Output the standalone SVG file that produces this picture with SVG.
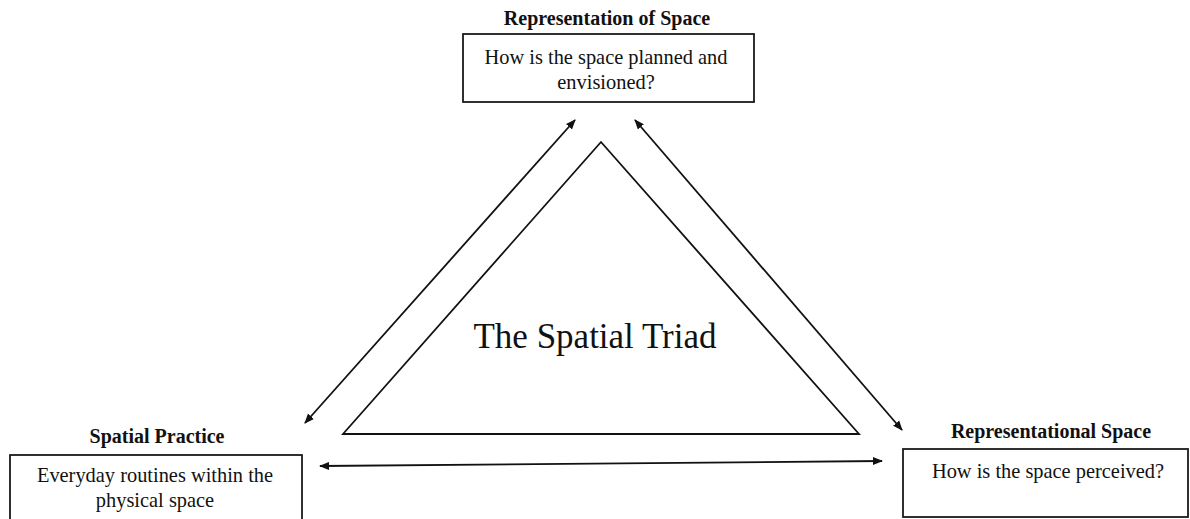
<svg xmlns="http://www.w3.org/2000/svg" width="1190" height="519" viewBox="0 0 1190 519">
<style>
.box{fill:#fff;stroke:#1a1a1a;stroke-width:1.8}
.title{font-family:"Liberation Serif","Times New Roman",serif;font-weight:bold;font-size:20px;fill:#111;text-anchor:middle}
.body{font-family:"Liberation Serif","Times New Roman",serif;font-size:20.4px;fill:#111;text-anchor:middle}
.big{font-family:"Liberation Serif","Times New Roman",serif;font-size:35px;fill:#111;text-anchor:middle}
.conn{stroke:#111;stroke-width:1.8;fill:none;marker-start:url(#ah);marker-end:url(#ah)}
</style>
<defs>
<marker id="ah" viewBox="0 0 10 10" refX="9" refY="5" markerWidth="10" markerHeight="10" markerUnits="userSpaceOnUse" orient="auto-start-reverse">
<path d="M0,1 L10,5 L0,9 z" fill="#111"/>
</marker>
</defs>
<rect width="1190" height="519" fill="#fff"/>
<g id="triad">
<polygon points="601,142 343,434 859,434" fill="none" stroke="#111" stroke-width="1.8" stroke-linejoin="miter"/>
<text class="big" x="595" y="348">The Spatial Triad</text>
</g>
<g id="representation-of-space">
<text class="title" x="607" y="25">Representation of Space</text>
<rect class="box" x="463" y="34" width="291" height="68"/>
<text class="body" x="606" y="64">How is the space planned and</text>
<text class="body" x="606" y="89">envisioned?</text>
</g>
<g id="spatial-practice">
<text class="title" x="157" y="443">Spatial Practice</text>
<rect class="box" x="10" y="455" width="292" height="70"/>
<text class="body" x="155" y="482">Everyday routines within the</text>
<text class="body" x="155" y="507">physical space</text>
</g>
<g id="representational-space">
<text class="title" x="1051" y="438">Representational Space</text>
<rect class="box" x="903" y="449" width="285" height="68"/>
<text class="body" x="1048" y="478">How is the space perceived?</text>
</g>
<g id="connectors">
<line class="conn" x1="305" y1="423" x2="575" y2="120"/>
<line class="conn" x1="635" y1="120" x2="902" y2="430"/>
<line class="conn" x1="320" y1="466" x2="882" y2="461"/>
</g>
</svg>
